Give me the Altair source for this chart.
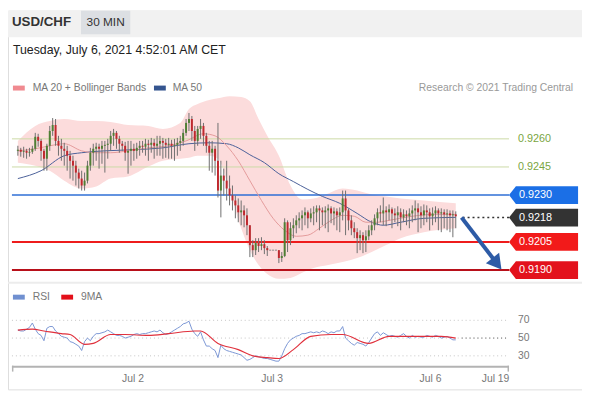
import altair as alt
import pandas as pd

# ---------------- data ----------------
close = [
    0.92542, 0.92531, 0.92536, 0.92526, 0.92531, 0.92547, 0.92611, 0.92589, 0.92536, 0.92494,
    0.92563, 0.92642, 0.92674, 0.92589, 0.92563, 0.92547, 0.92536, 0.92510, 0.92483, 0.92457,
    0.92420, 0.92388, 0.92351, 0.92377, 0.92457, 0.92526, 0.92547, 0.92558, 0.92547, 0.92563,
    0.92568, 0.92574, 0.92616, 0.92632, 0.92600, 0.92574, 0.92563, 0.92526, 0.92536, 0.92547,
    0.92536, 0.92552, 0.92563, 0.92558, 0.92574, 0.92568, 0.92579, 0.92563, 0.92574, 0.92589,
    0.92579, 0.92568, 0.92574, 0.92563, 0.92568, 0.92579, 0.92589, 0.92632, 0.92685, 0.92706,
    0.92642, 0.92589, 0.92653, 0.92669, 0.92616, 0.92563, 0.92526, 0.92547, 0.92483, 0.92324,
    0.92404, 0.92377, 0.92335, 0.92298, 0.92271, 0.92245, 0.92208, 0.92218, 0.92192, 0.92139,
    0.92033, 0.92006, 0.92044, 0.92028, 0.92038, 0.92017, 0.92006, 0.92006, 0.92006, 0.92006,
    0.91964, 0.91975, 0.92155, 0.92059, 0.92123, 0.92139, 0.92165, 0.92176, 0.92192, 0.92208,
    0.92176, 0.92202, 0.92208, 0.92229, 0.92218, 0.92208, 0.92218, 0.92229, 0.92202, 0.92213,
    0.92192, 0.92208, 0.92282, 0.92218, 0.92165, 0.92123, 0.92102, 0.92070, 0.92086, 0.92059,
    0.92080, 0.92112, 0.92139, 0.92176, 0.92208, 0.92202, 0.92218, 0.92208, 0.92224, 0.92202,
    0.92192, 0.92208, 0.92181, 0.92197, 0.92187, 0.92202, 0.92218, 0.92229, 0.92208, 0.92192,
    0.92218, 0.92208, 0.92187, 0.92202, 0.92218, 0.92202, 0.92208, 0.92197, 0.92202, 0.92192,
    0.92197, 0.92187]
high = [
    0.92563, 0.92552, 0.92558, 0.92547, 0.92552, 0.92563, 0.92632, 0.92627, 0.92600, 0.92547,
    0.92574, 0.92669, 0.92711, 0.92706, 0.92616, 0.92600, 0.92579, 0.92563, 0.92536, 0.92510,
    0.92483, 0.92441, 0.92430, 0.92420, 0.92483, 0.92552, 0.92574, 0.92579, 0.92574, 0.92589,
    0.92589, 0.92600, 0.92642, 0.92653, 0.92642, 0.92616, 0.92589, 0.92584, 0.92589, 0.92589,
    0.92574, 0.92579, 0.92589, 0.92589, 0.92600, 0.92595, 0.92605, 0.92600, 0.92616, 0.92616,
    0.92605, 0.92600, 0.92605, 0.92595, 0.92600, 0.92605, 0.92616, 0.92653, 0.92706, 0.92738,
    0.92722, 0.92669, 0.92669, 0.92706, 0.92685, 0.92632, 0.92589, 0.92589, 0.92563, 0.92685,
    0.92483, 0.92441, 0.92483, 0.92404, 0.92351, 0.92298, 0.92282, 0.92271, 0.92245, 0.92229,
    0.92139, 0.92059, 0.92070, 0.92070, 0.92075, 0.92059, 0.92028, 0.92006, 0.92006, 0.92006,
    0.92006, 0.91996, 0.92176, 0.92165, 0.92155, 0.92176, 0.92192, 0.92208, 0.92218, 0.92234,
    0.92218, 0.92229, 0.92240, 0.92245, 0.92245, 0.92234, 0.92240, 0.92250, 0.92240, 0.92234,
    0.92229, 0.92234, 0.92324, 0.92324, 0.92229, 0.92192, 0.92155, 0.92123, 0.92112, 0.92102,
    0.92112, 0.92139, 0.92165, 0.92197, 0.92229, 0.92245, 0.92287, 0.92240, 0.92250, 0.92234,
    0.92229, 0.92240, 0.92229, 0.92224, 0.92218, 0.92229, 0.92245, 0.92271, 0.92256, 0.92240,
    0.92250, 0.92245, 0.92229, 0.92234, 0.92240, 0.92229, 0.92229, 0.92224, 0.92224, 0.92218,
    0.92218, 0.92213]
low = [
    0.92510, 0.92505, 0.92499, 0.92494, 0.92505, 0.92520, 0.92536, 0.92558, 0.92483, 0.92430,
    0.92430, 0.92536, 0.92616, 0.92563, 0.92510, 0.92483, 0.92457, 0.92430, 0.92388, 0.92377,
    0.92351, 0.92335, 0.92324, 0.92324, 0.92362, 0.92430, 0.92457, 0.92483, 0.92441, 0.92467,
    0.92420, 0.92494, 0.92536, 0.92563, 0.92547, 0.92526, 0.92536, 0.92483, 0.92414, 0.92457,
    0.92483, 0.92494, 0.92510, 0.92526, 0.92510, 0.92483, 0.92526, 0.92494, 0.92510, 0.92510,
    0.92494, 0.92499, 0.92494, 0.92494, 0.92483, 0.92510, 0.92536, 0.92563, 0.92616, 0.92642,
    0.92589, 0.92536, 0.92563, 0.92600, 0.92563, 0.92526, 0.92430, 0.92420, 0.92404, 0.92287,
    0.92181, 0.92298, 0.92271, 0.92245, 0.92218, 0.92176, 0.92155, 0.92139, 0.92128, 0.92086,
    0.91969, 0.91969, 0.91980, 0.91996, 0.92006, 0.91985, 0.91975, 0.92006, 0.92006, 0.92006,
    0.91937, 0.91943, 0.91969, 0.91996, 0.92033, 0.92070, 0.92096, 0.92123, 0.92112, 0.92139,
    0.92123, 0.92155, 0.92139, 0.92155, 0.92112, 0.92139, 0.92123, 0.92102, 0.92150, 0.92139,
    0.92112, 0.92102, 0.92165, 0.92086, 0.92112, 0.92086, 0.92070, 0.91990, 0.92006, 0.91990,
    0.91996, 0.92059, 0.92086, 0.92112, 0.92139, 0.92155, 0.92139, 0.92134, 0.92165, 0.92123,
    0.92155, 0.92134, 0.92112, 0.92155, 0.92139, 0.92123, 0.92155, 0.92165, 0.92102, 0.92123,
    0.92139, 0.92155, 0.92112, 0.92139, 0.92155, 0.92112, 0.92102, 0.92123, 0.92112, 0.92102,
    0.92075, 0.92123]
first_open = 0.92536

band_idx = [0, 6, 11, 16, 22, 27, 32, 38, 45, 50, 56, 59, 62, 66, 69, 73, 77, 80, 83, 86,
            90, 94, 98, 102, 107, 112, 117, 122, 127, 132, 140, 151]
band_upper = [0.92589, 0.92669, 0.92695, 0.92706, 0.92695, 0.92695, 0.92690, 0.92674, 0.92669,
              0.92653, 0.92685, 0.92759, 0.92786, 0.92807, 0.92817, 0.92828, 0.92823, 0.92801,
              0.92706, 0.92616, 0.92510, 0.92351, 0.92277, 0.92282, 0.92309, 0.92335, 0.92324,
              0.92303, 0.92293, 0.92282, 0.92271, 0.92256]
band_lower = [0.92473, 0.92457, 0.92430, 0.92377, 0.92335, 0.92346, 0.92388, 0.92399, 0.92452,
              0.92483, 0.92494, 0.92499, 0.92510, 0.92510, 0.92494, 0.92324, 0.92123, 0.92006,
              0.91927, 0.91879, 0.91853, 0.91858, 0.91885, 0.91911, 0.91927, 0.91943, 0.91964,
              0.91996, 0.92033, 0.92070, 0.92102, 0.92123]

ma20_idx = [0, 6, 11, 16, 22, 27, 32, 38, 45, 52, 58, 64, 68, 72, 76, 80, 84, 88, 92, 96,
            100, 104, 108, 112, 116, 120, 124, 128, 136, 144, 151]
ma20_val = [0.92536, 0.92547, 0.92563, 0.92574, 0.92536, 0.92526, 0.92526, 0.92536, 0.92552,
            0.92563, 0.92589, 0.92627, 0.92616, 0.92563, 0.92483, 0.92377, 0.92271, 0.92176,
            0.92112, 0.92080, 0.92086, 0.92123, 0.92165, 0.92192, 0.92187, 0.92155, 0.92155,
            0.92165, 0.92187, 0.92197, 0.92197]

ma50_idx = [0, 8, 16, 22, 30, 40, 50, 59, 66, 72, 76, 80, 85, 90, 95, 100, 105, 111, 117,
            122, 126, 132, 140, 151]
ma50_val = [0.92388, 0.92430, 0.92510, 0.92526, 0.92536, 0.92542, 0.92552, 0.92574, 0.92579,
            0.92574, 0.92552, 0.92515, 0.92473, 0.92414, 0.92372, 0.92330, 0.92293, 0.92256,
            0.92202, 0.92155, 0.92139, 0.92155, 0.92176, 0.92181]

rsi_val = [
    59, 58, 58, 60, 62, 67, 60, 55, 53, 47,
    61, 63, 63, 58, 55, 52, 51, 50, 46, 45,
    43, 41, 36, 46, 50, 47, 52, 55, 55, 56,
    57, 59, 57, 55, 53, 53, 52, 50, 51, 52,
    54, 55, 54, 55, 55, 56, 57, 58, 57, 59,
    56, 54, 55, 57, 59, 61, 63, 66, 67, 69,
    60, 55, 52, 57, 48, 41, 41, 38, 36, 28,
    42, 38, 36, 35, 34, 33, 32, 31, 28, 25,
    26, 28, 30, 29, 28, 27, 27, 26, 25, 24,
    24, 30, 38, 44, 48, 50, 52, 53, 55, 55,
    56, 57, 56, 57, 56, 58, 57, 55, 57, 56,
    58, 58, 63, 50, 47, 44, 42, 45, 44, 43,
    41, 45, 50, 55, 57, 53, 56, 54, 52, 53,
    52, 51, 53, 55, 52, 50, 53, 51, 52, 51,
    51, 53, 52, 51, 53, 52, 50, 51, 52, 50,
    48, 48]
ma9_idx = [0, 5, 9, 15, 18, 23, 26, 32, 37, 45, 52, 61, 63, 69, 76, 81, 86, 90, 95, 101,
           108, 112, 121, 128, 135, 146, 151]
ma9_val = [59, 60, 58, 55, 54, 43, 44, 54, 54, 53, 55, 58, 58, 44, 37, 30, 28, 27, 37, 52,
           54, 54, 44, 52, 52, 52, 50]

levels = [0.9260, 0.9245, 0.9230, 0.9218, 0.9205, 0.9190]
level_text = ["0.9260", "0.9245", "0.9230", "0.9218", "0.9205", "0.9190"]
box_colors = ["#1b6fe6", "#333333", "#f21a1a", "#e3121c"]
rsi_levels = [70, 50, 30]
date_labels = ["Jul 2", "Jul 3", "Jul 6", "Jul 19"]
date_pos = [39.7, 87.7, 142.3, 164.7]
arrow_idx = [153.0, 164.0]
arrow_val = [0.9218, 0.91959]
arrow_head_idx = [164.7]
arrow_head_val = [0.91944]

# ---------------- tables ----------------
n = len(close)
opens = [first_open] + close[:-1]
dirs = ["up" if c > o else ("down" if c < o else "flat") for o, c in zip(opens, close)]
candles = pd.DataFrame(dict(i=list(range(n)), o=opens, c=close, h=high, l=low, d=dirs))
band = pd.DataFrame(dict(i=band_idx, up=band_upper, lo=band_lower))
ma20 = pd.DataFrame(dict(i=ma20_idx, v=ma20_val))
ma50 = pd.DataFrame(dict(i=ma50_idx, v=ma50_val))
rsi = pd.DataFrame(dict(i=list(range(len(rsi_val))), v=rsi_val))
ma9 = pd.DataFrame(dict(i=ma9_idx, v=ma9_val))
lv = pd.DataFrame(dict(lv=levels, t=level_text))
boxes = pd.DataFrame(dict(lv=levels[2:], t=level_text[2:], col=box_colors))
rsil = pd.DataFrame(dict(v=rsi_levels, t=[str(v) for v in rsi_levels]))
dates = pd.DataFrame(dict(i=date_pos, t=date_labels))
arrow = pd.DataFrame(dict(i=arrow_idx, v=arrow_val))
head = pd.DataFrame(dict(i=arrow_head_idx, v=arrow_head_val))
one = pd.DataFrame(dict(k=[0]))

FONT = "Liberation Sans"
X = alt.Scale(domain=[0, 168], range=[5, 509], nice=False, zero=False)
PY = alt.Scale(domain=[0.9190, 0.9260], range=[263, 130], nice=False, zero=False)
RY = alt.Scale(domain=[30, 70], range=[350, 314], nice=False, zero=False)


def xi(f="i"):
    return alt.X(f"{f}:Q", scale=X, axis=None)


def yp(f):
    return alt.Y(f"{f}:Q", scale=PY, axis=None)


def yr(f):
    return alt.Y(f"{f}:Q", scale=RY, axis=None)


def txt(s, x, y, size, color, align="left", weight="normal"):
    return alt.Chart(one).mark_text(text=s, align=align, baseline="middle", fontSize=size,
                                    color=color, fontWeight=weight, font=FONT).encode(
        x=alt.value(x), y=alt.value(y))


def box(x, x2, y, y2, color):
    return alt.Chart(one).mark_rect(color=color).encode(
        x=alt.value(x), x2=alt.value(x2), y=alt.value(y), y2=alt.value(y2))


layers = []
# header
layers.append(box(0, 582, 0, 27, "#f1f1f1"))
layers.append(box(74, 124, 0, 24, "#dcdfe3"))
layers.append(txt("USD/CHF", 4, 12, 13.5, "#333333", weight="bold"))
layers.append(txt("30 MIN", 99, 12, 12, "#333333", align="center"))
layers.append(txt("Tuesday, July 6, 2021 4:52:01 AM CET", 5, 40, 12.5, "#222222"))
# price legend
layers.append(box(5, 17, 76, 81, "#f08a90"))
layers.append(txt("MA 20 + Bollinger Bands", 25, 78, 10.5, "#777777"))
layers.append(box(148, 160, 76, 81, "#35558f"))
layers.append(txt("MA 50", 167, 78, 10.5, "#777777"))
layers.append(txt("Research \u00a9 2021 Trading Central", 573, 78, 10.5, "#999999", align="right"))

# bollinger band
layers.append(alt.Chart(band).mark_area(color="#fcdcdc", interpolate="monotone").encode(
    x=xi(), y=yp("up"), y2="lo:Q"))

# level lines
green = lv[lv.lv >= 0.9245]
layers.append(alt.Chart(green).mark_rule(color="#cbd9a6", strokeWidth=1).encode(
    y=yp("lv"), x=alt.value(4), x2=alt.value(508)))
layers.append(alt.Chart(lv[lv.lv == 0.9230]).mark_rule(color="#2f6fd6", strokeWidth=1.5).encode(
    y=yp("lv"), x=alt.value(4), x2=alt.value(508)))
layers.append(alt.Chart(lv[lv.lv == 0.9205]).mark_rule(color="#ee1c1c", strokeWidth=2).encode(
    y=yp("lv"), x=alt.value(4), x2=alt.value(508)))
layers.append(alt.Chart(lv[lv.lv == 0.9190]).mark_rule(color="#b8101a", strokeWidth=2).encode(
    y=yp("lv"), x=alt.value(4), x2=alt.value(508)))
layers.append(alt.Chart(lv[lv.lv == 0.9218]).mark_rule(color="#333333", strokeWidth=1.5,
                                                      strokeDash=[2, 3]).encode(
    y=yp("lv"), x=alt.value(461), x2=alt.value(508)))

# moving averages
layers.append(alt.Chart(ma50).mark_line(color="#4a5f98", strokeWidth=1, interpolate="monotone").encode(
    x=xi(), y=yp("v")))
layers.append(alt.Chart(ma20).mark_line(color="#e49a9a", strokeWidth=1, interpolate="monotone").encode(
    x=xi(), y=yp("v")))

# candles
layers.append(alt.Chart(candles).mark_rule(color="#6e6e6e", strokeWidth=1).encode(
    x=xi(), y=yp("l"), y2="h:Q"))
layers.append(alt.Chart(candles).transform_filter("datum.d != 'flat'").mark_bar(size=2).encode(
    x=xi(), y=yp("o"), y2="c:Q",
    color=alt.Color("d:N", scale=alt.Scale(domain=["up", "down"], range=["#4f7f34", "#c0282e"]),
                    legend=None)))
layers.append(alt.Chart(candles).transform_filter("datum.d == 'flat'").transform_calculate(
    a="datum.i - 0.35", b="datum.i + 0.35").mark_rule(color="#888888", strokeWidth=1).encode(
    x=xi("a"), x2="b:Q", y=yp("c")))

# forecast arrow
layers.append(alt.Chart(arrow).mark_line(color="#2d5ba6", strokeWidth=4).encode(
    x=xi(), y=yp("v")))
layers.append(alt.Chart(head).mark_point(shape="triangle", size=290, angle=142, filled=True,
                                         opacity=1, color="#2d5ba6").encode(
    x=xi(), y=yp("v")))

# level labels
layers.append(alt.Chart(green).mark_text(align="left", baseline="middle", fontSize=11,
                                         color="#7aa53f", font=FONT).encode(
    x=alt.value(517), y=yp("lv"), text="t:N"))
layers.append(alt.Chart(boxes).mark_point(
    shape="M -1 0 L -0.8 -0.257 L 1 -0.257 L 1 0.257 L -0.8 0.257 Z",
    size=4900, filled=True, opacity=1, strokeWidth=0).encode(
    x=alt.value(543), y=yp("lv"), color=alt.Color("col:N", scale=None)))
layers.append(alt.Chart(boxes).mark_text(align="left", baseline="middle", fontSize=11,
                                         color="white", font=FONT).encode(
    x=alt.value(518), y=yp("lv"), text="t:N"))

# separator between panels
layers.append(box(0, 582, 275, 277, "#ececec"))

# RSI panel
layers.append(box(5, 17, 288, 293, "#7090d0"))
layers.append(txt("RSI", 25, 290, 10.5, "#777777"))
layers.append(box(54, 66, 288, 293, "#e3101a"))
layers.append(txt("9MA", 74, 290, 10.5, "#777777"))
layers.append(alt.Chart(rsil).mark_rule(color="#c4c4c4", strokeWidth=1, strokeDash=[1, 3]).encode(
    y=yr("v"), x=alt.value(4), x2=alt.value(508)))
layers.append(alt.Chart(rsil[rsil.v == 50]).mark_rule(color="#666666", strokeWidth=1,
                                                      strokeDash=[1, 3]).encode(
    y=yr("v"), x=alt.value(460), x2=alt.value(508)))
layers.append(alt.Chart(rsil).mark_text(align="left", baseline="middle", fontSize=10.5,
                                        color="#777777", font=FONT).encode(
    y=yr("v"), x=alt.value(517), text="t:N"))
layers.append(alt.Chart(rsi).mark_line(color="#7b96d4", strokeWidth=1).encode(
    x=xi(), y=yr("v")))
layers.append(alt.Chart(ma9).mark_line(color="#e0303c", strokeWidth=1.2, interpolate="monotone").encode(
    x=xi(), y=yr("v")))
# time axis
layers.append(box(4, 508, 360, 362, "#b3b3b3"))
layers.append(box(4, 5.5, 360, 366, "#b3b3b3"))
layers.append(box(506.5, 508, 360, 366, "#b3b3b3"))
layers.append(alt.Chart(dates).mark_text(align="center", baseline="middle", fontSize=10.5,
                                         color="#777777", font=FONT).encode(
    x=xi(), y=alt.value(374), text="t:N"))

chart = alt.layer(*layers).resolve_scale(y="independent", color="independent").properties(
    width=582, height=384, autosize=alt.AutoSizeParams(type="none"), padding=0,
    background="white").configure_view(strokeWidth=0).configure(font=FONT)

chart.save("out.html", embed_options={"renderer": "svg", "actions": False})
